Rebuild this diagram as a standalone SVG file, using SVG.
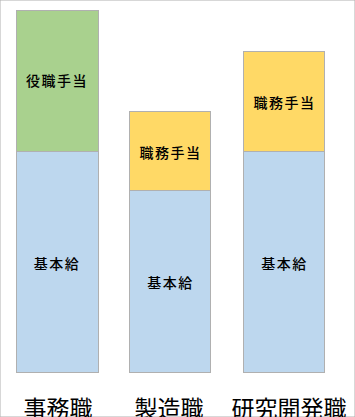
<svg xmlns="http://www.w3.org/2000/svg" width="355" height="417" viewBox="0 0 355 417">
<style>
rect{stroke:#b0b0b0;stroke-width:1}
.g{fill:#a9d18e}.b{fill:#bdd7ee}.y{fill:#ffd966}
text{font-family:"Noto Sans CJK JP","Noto Sans",sans-serif;fill:#000;text-anchor:middle;dominant-baseline:central}
.s{font-size:14px;letter-spacing:1.5px;font-weight:500}.l{font-size:23px}
</style>
<rect width="355" height="417" fill="#fff" stroke="none"/>
<g id="bar1">
<rect class="g" x="16.5" y="10.5" width="82" height="141"/>
<rect class="b" x="16.5" y="151.5" width="82" height="221"/>
<text class="s" x="57" y="80">役職手当</text>
<text class="s" x="57" y="263">基本給</text>
</g>
<g id="bar2">
<rect class="y" x="129.5" y="111.5" width="81" height="79"/>
<rect class="b" x="129.5" y="190.5" width="81" height="182"/>
<text class="s" x="170.5" y="152">職務手当</text>
<text class="s" x="170.5" y="282">基本給</text>
</g>
<g id="bar3">
<rect class="y" x="243.5" y="51.5" width="81" height="100"/>
<rect class="b" x="243.5" y="151.5" width="81" height="221"/>
<text class="s" x="284.5" y="102">職務手当</text>
<text class="s" x="284.5" y="263">基本給</text>
</g>
<g id="labels">
<text class="l" x="58" y="407">事務職</text>
<text class="l" x="169" y="407">製造職</text>
<text class="l" x="289" y="407">研究開発職</text>
</g>
<g id="connectors"/>
</svg>
